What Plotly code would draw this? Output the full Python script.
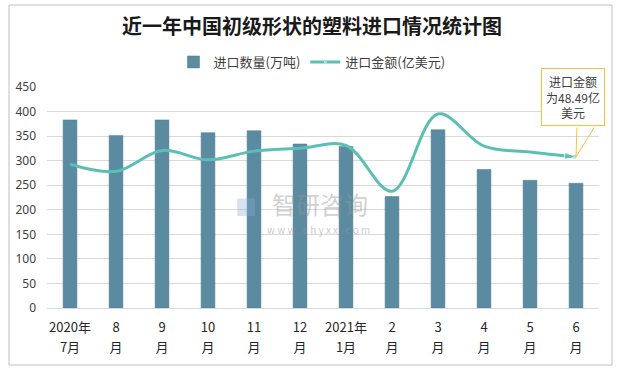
import plotly.graph_objects as go

months = ["2020年7月", "8月", "9月", "10月", "11月", "12月",
          "2021年1月", "2月", "3月", "4月", "5月", "6月"]
tick_top = ["2020年", "8", "9", "10", "11", "12", "2021年", "2", "3", "4", "5", "6"]
tick_bottom = ["7月", "月", "月", "月", "月", "月", "1月", "月", "月", "月", "月", "月"]
volume = [383, 351, 383, 357, 361, 334, 329, 227, 363, 282, 260, 254]
amount = [46.2, 43.9, 50.6, 47.6, 50.4, 51.3, 52.2, 37.5, 62.3, 52.0, 50.1, 48.49]

W, H = 617, 368
ml, mr, mt, mb = 47, 18, 87, 60
pw, ph = W - ml - mr, H - mt - mb

def px(x):
    return (x - ml) / pw

def py(y):
    return 1 - (y - mt) / ph

fig = go.Figure()
fig.add_trace(go.Bar(
    x=months, y=volume, name="进口数量(万吨)",
    marker=dict(color="#5b8ba1", line=dict(color="#4f7d92", width=0.5)),
))
n = len(amount)
fig.add_trace(go.Scatter(
    x=months, y=amount, name="进口金额(亿美元)", yaxis="y2",
    mode="lines+markers",
    line=dict(color="#5bbfb5", width=3, shape="spline", smoothing=1),
    marker=dict(color="#5bbfb5",
                size=[11] + [0] * (n - 2) + [12],
                symbol=["circle"] + ["circle"] * (n - 2) + ["arrow"],
                angleref="previous"),
))
# carrier for the second row of x tick labels
fig.add_trace(go.Scatter(
    x=months, y=volume, xaxis="x2", mode="markers", marker=dict(opacity=0, size=1),
    showlegend=False, hoverinfo="skip",
))

tickfont = dict(family="Noto Sans CJK SC", size=13, color="#262626")
fig.update_layout(
    width=W, height=H,
    margin=dict(l=ml, r=mr, t=mt, b=mb, autoexpand=False),
    paper_bgcolor="white", plot_bgcolor="white",
    bargap=0.7,
    title=dict(text="<b>近一年中国初级形状的塑料进口情况统计图</b>", x=px(312), xanchor="center",
               xref="paper", y=1 - 27 / H, yanchor="middle",
               font=dict(family="Noto Sans CJK SC", size=20, color="#1a1a1a")),
    legend=dict(orientation="h", x=px(312), xanchor="center", y=py(62), yanchor="middle",
                font=dict(family="Noto Sans CJK SC", size=13, color="#404040"),
                bgcolor="rgba(0,0,0,0)", itemwidth=30),
    xaxis=dict(type="category", categoryarray=months, range=[-0.5, 11.5],
               tickvals=months, ticktext=tick_top,
               showgrid=False, showline=True, linecolor="#d9d9d9", ticks="",
               ticklabelstandoff=7, tickfont=tickfont),
    xaxis2=dict(type="category", categoryarray=months, range=[-0.5, 11.5],
                overlaying="x", anchor="y", side="bottom",
                tickvals=months, ticktext=tick_bottom,
                showgrid=False, showline=False, zeroline=False, ticks="",
                ticklabelstandoff=30, tickfont=tickfont),
    yaxis=dict(range=[0, 450], dtick=50, showgrid=True, gridcolor="#d9d9d9", gridwidth=1,
               zeroline=False, ticks="", ticklabelstandoff=10,
               tickfont=dict(family="Noto Sans", size=12, color="#404040")),
    yaxis2=dict(range=[0, 71], overlaying="y", side="right", visible=False),
    showlegend=True,
    font=dict(family="Noto Sans CJK SC"),
)

# outer frame
fig.add_shape(type="rect", xref="paper", yref="paper",
              x0=px(9), x1=px(612), y0=py(365), y1=py(5),
              line=dict(color="#bfbfbf", width=1), fillcolor="rgba(0,0,0,0)", layer="below")

# watermark
fig.add_annotation(xref="paper", yref="paper", x=px(320), y=py(203), text="智研咨询",
                   showarrow=False, font=dict(size=24, color="rgba(150,150,150,0.45)"))
fig.add_annotation(xref="paper", yref="paper", x=px(318), y=py(229), text="w w w . c h y x x . c o m",
                   showarrow=False, font=dict(size=10, color="rgba(150,150,150,0.5)"))
fig.add_annotation(xref="paper", yref="paper", x=px(246), y=py(205), text="■",
                   showarrow=False, font=dict(size=22, color="rgba(140,170,210,0.35)"))

# callout
gold = "#f5c242"
fig.add_annotation(x=months[-1], y=amount[-1], yref="y2",
                   text="进口金额<br>为48.49亿<br>美元", showarrow=True,
                   arrowhead=0, arrowcolor="rgba(0,0,0,0)", arrowwidth=1,
                   ax=-3, ay=-31, xanchor="center", yanchor="bottom",
                   bordercolor=gold, borderwidth=1, borderpad=4, bgcolor="white",
                   font=dict(family="Noto Sans CJK SC", size=12, color="#404040"),
                   align="center")
fig.add_annotation(x=months[-1], y=amount[-1], yref="y2", text="",
                   showarrow=True, arrowhead=0, arrowcolor=gold, arrowwidth=1,
                   ax=19, ay=-31)
fig.add_annotation(x=months[-1], y=amount[-1], yref="y2", text="",
                   showarrow=True, arrowhead=0, arrowcolor=gold, arrowwidth=1,
                   ax=1, ay=-31)

fig.write_html("out.html", config={"displayModeBar": False},
               post_script="document.body.style.margin='0';")
